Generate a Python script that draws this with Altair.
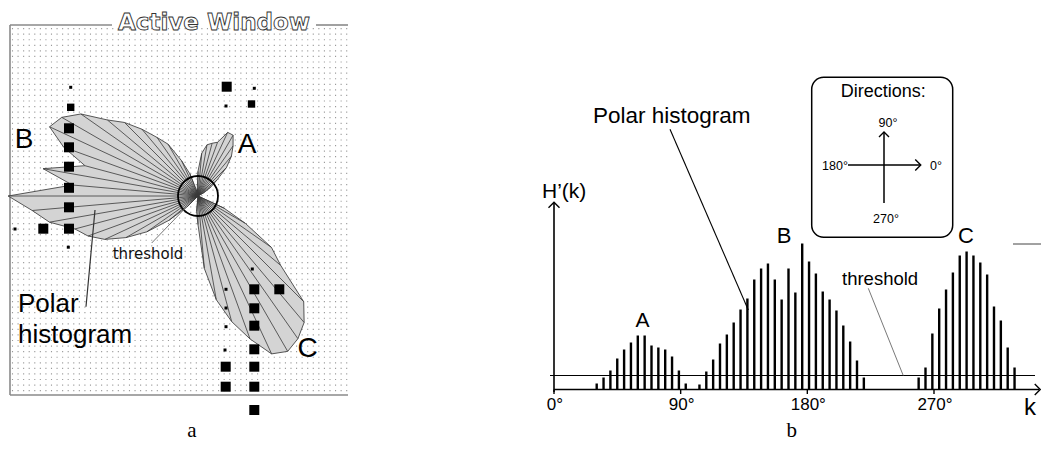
import altair as alt
import numpy as np
import pandas as pd

# ---------------- data ----------------
# sector index k (5 degree sectors) and polar-histogram density H'(k)
sectors_A = list(range(6, 20))
hist_A = [6, 12, 19, 31, 40, 47, 54, 54, 44, 42, 40, 33, 19, 6]
sectors_B = list(range(21, 46))
hist_B = [5, 18, 30, 46, 55, 67, 80, 91, 110, 121, 126, 110, 90, 121, 97,
          146, 128, 116, 98, 90, 79, 64, 48, 29, 12]
sectors_C = list(range(53, 68))
hist_C = [12, 22, 56, 81, 100, 117, 134, 138, 134, 127, 115, 83, 69, 42, 22]
THRESHOLD = 14

tick_deg = [0, 90, 180, 270]
tick_text = ["0°", "90°", "180°", "270°"]

# obstacle cells of the active window (centre in window pixels, certainty value)
obs_x = [70.7, 70.7, 69, 69, 69, 69, 69, 69, 68.3, 43.3, 15,
         226.7, 254.3, 226, 251.5,
         252.3, 254.3, 254.3, 254.3, 254.3, 254.3, 254.3, 254.3, 279.3,
         226, 226, 226, 225, 225.7, 225.7]
obs_y = [87.3, 107.3, 128.3, 147.3, 166.7, 187.8, 207.3, 228.7, 247.2, 228.7, 229,
         86.7, 88.3, 106, 104,
         269, 289.3, 308.3, 325.7, 349.3, 366.7, 386.7, 410, 289.3,
         289.3, 308, 326.7, 350, 366.7, 386.7]
obs_cv = [1, 2, 3, 3, 3, 3, 3, 3, 1, 3, 1,
          3, 1, 1, 2,
          1, 3, 3, 3, 3, 3, 3, 3, 3,
          1, 1, 1, 1, 3, 3]

# ---------------- tables ----------------
bars = pd.DataFrame({
    "k": sectors_A + sectors_B + sectors_C,
    "h": hist_A + hist_B + hist_C,
    "lobe": ["A"] * len(sectors_A) + ["B"] * len(sectors_B) + ["C"] * len(sectors_C),
})
rows = []
for lobe, ks, hs in [("A", sectors_A, hist_A), ("B", sectors_B, hist_B), ("C", sectors_C, hist_C)]:
    pts = [(ks[0] - 1, 0)] + list(zip(ks, hs)) + [(ks[-1] + 1, 0)]
    for i, (k, h) in enumerate(pts):
        rows.append({"lobe": lobe, "k": k, "h": h, "seq": i})
poly = pd.DataFrame(rows)
obstacles = pd.DataFrame({"x": obs_x, "y": obs_y, "cv": obs_cv})
ticks = pd.DataFrame({"deg": tick_deg, "label": tick_text})
thr = pd.DataFrame({"t": [THRESHOLD], "zero": [0]})
one = pd.DataFrame({"v": [0]})

W, H = 1033, 434
M = 8
SANS = "Liberation Sans"
SERIF = "Liberation Serif"

PX = alt.Scale(domain=[8, 1041], nice=False, zero=False)
PY = alt.Scale(domain=[8, 442], nice=False, zero=False, reverse=True)
KX = alt.Scale(domain=[-79.942, 70.862], nice=False, zero=False)
HY = alt.Scale(domain=[-52.5, 381.5], nice=False, zero=False)
DX = alt.Scale(domain=[-387.95, 346.03], nice=False, zero=False)

CX, CY, S = 198, 196, 1.3
polar_calc = dict(
    px=f"{CX} + {S}*datum.h*cos(datum.k*5*PI/180)",
    py=f"{CY} - {S}*datum.h*sin(datum.k*5*PI/180)",
    cx=f"{CX}", cy=f"{CY}",
)


def seg(x1, y1, x2, y2, color="black", w=1.0):
    return alt.Chart(one).mark_rule(color=color, strokeWidth=w).encode(
        x=alt.value(x1 - M), y=alt.value(y1 - M), x2=alt.value(x2 - M), y2=alt.value(y2 - M))


def txt(s, x, y, size, font=SANS, align="center", weight="normal", **kw):
    return alt.Chart(one).mark_text(text=s, fontSize=size, font=font, align=align,
                                    baseline="alphabetic", fontWeight=weight, **kw).encode(
        x=alt.value(x - M), y=alt.value(y - M))


def chevron(path, x, y, size, w=1.4):
    return alt.Chart(one).mark_point(shape=path, size=size, filled=False, color="black",
                                     strokeWidth=w, opacity=1).encode(
        x=alt.value(x - M), y=alt.value(y - M))


UP = "M-1,0.5L0,-0.5L1,0.5"
RIGHT = "M-0.5,-1L0.5,0L-0.5,1"

layers = []

# ======== panel a ========
grid_df = pd.DataFrame({"gx": np.arange(12.5, 348, 5.57)})
layers.append(alt.Chart(grid_df).mark_rule(color="#9a9a9a", strokeWidth=1.1, strokeDash=[1.2, 4.37]).encode(
    x=alt.X("gx:Q", scale=PX, axis=None), y=alt.value(28 - M), y2=alt.value(394 - M)))

# frame
layers += [
    seg(10, 25, 10, 395, "#8a8a8a", 1.6),
    seg(10, 395, 348, 395, "#8a8a8a", 1.6),
    seg(10, 25, 112, 25, "#8a8a8a", 1.6),
    seg(316, 25, 348, 25, "#8a8a8a", 1.6),
]

# polar histogram lobes
layers.append(alt.Chart(poly).transform_calculate(**polar_calc).mark_line(
    interpolate="linear-closed", fill="#d4d4d4", stroke="#555555", strokeWidth=1).encode(
    x=alt.X("px:Q", scale=PX, axis=None), y=alt.Y("py:Q", scale=PY, axis=None),
    detail="lobe:N", order="seq:Q"))
layers.append(alt.Chart(bars).transform_calculate(**polar_calc).mark_rule(color="#3a3a3a", strokeWidth=0.8).encode(
    x=alt.X("cx:Q", scale=PX, axis=None), y=alt.Y("cy:Q", scale=PY, axis=None),
    x2="px:Q", y2="py:Q"))

# obstacles
layers.append(alt.Chart(obstacles).mark_square(color="black", opacity=1).encode(
    x=alt.X("x:Q", scale=PX, axis=None), y=alt.Y("y:Q", scale=PY, axis=None),
    size=alt.Size("cv:Q", scale=alt.Scale(domain=[1, 3], range=[9, 100]), legend=None)))

# threshold circle
layers.append(alt.Chart(one).mark_point(shape="circle", size=1600, filled=False, color="black",
                                        strokeWidth=1.8, opacity=1).encode(
    x=alt.value(CX - M), y=alt.value(CY - M)))

# pointers
layers += [
    seg(151.7, 243, 186.7, 206.7, "#777777", 1),
    seg(86, 306.7, 95, 210, "#333333", 1.2),
]

# texts panel a
layers += [
    txt("Active Window", 214, 29.8, 23, font="DejaVu Sans", weight="bold",
        fill="white", stroke="#333333", strokeWidth=0.9),
    txt("B", 24, 148, 28),
    txt("A", 247, 153, 28),
    txt("C", 307.5, 357, 28),
    txt("threshold", 148, 258.5, 15, font="DejaVu Sans", color="#111111"),
    txt("Polar", 18, 312, 26, align="left"),
    txt("histogram", 18, 342.7, 26, align="left"),
    txt("a", 192, 436.5, 21, font=SERIF),
]

# ======== panel b ========
layers.append(alt.Chart(bars).transform_calculate(zero="0").mark_rule(color="black", strokeWidth=2.4).encode(
    x=alt.X("k:Q", scale=KX, axis=None), y=alt.Y("h:Q", scale=HY, axis=None), y2="zero:Q"))
layers.append(alt.Chart(thr).mark_rule(color="black", strokeWidth=1.2).encode(
    y=alt.Y("t:Q", scale=HY, axis=None), x=alt.value(550 - M), x2=alt.value(1035 - M)))

# axes
layers += [
    seg(554, 203, 554, 392, "black", 1.6),
    seg(554, 389.5, 1039, 389.5, "black", 1.6),
    chevron(UP, 554, 205, 121),
    chevron(RIGHT, 1037.5, 389.5, 121),
]
layers.append(alt.Chart(ticks).mark_rule(color="black", strokeWidth=1.4).encode(
    x=alt.X("deg:Q", scale=DX, axis=None), y=alt.value(389.5 - M), y2=alt.value(394 - M)))
layers.append(alt.Chart(ticks).mark_text(fontSize=17, font=SANS, align="center", baseline="alphabetic", dx=1).encode(
    x=alt.X("deg:Q", scale=DX, axis=None), y=alt.value(410 - M), text="label:N"))

# pointers and stray line
layers += [
    seg(670, 129.3, 748.3, 310, "black", 1.1),
    seg(868.3, 288.3, 903.3, 375.7, "#555555", 0.8),
    seg(1013, 244, 1041, 244, "#444444", 1),
]

# directions box
layers.append(alt.Chart(one).mark_rect(fill="white", fillOpacity=0, stroke="black", strokeWidth=1.5,
                                       cornerRadius=12).encode(
    x=alt.value(811.7 - M), x2=alt.value(952.7 - M), y=alt.value(77.3 - M), y2=alt.value(237.3 - M)))
layers += [
    seg(884, 133, 884, 203, "black", 1.5),
    seg(848, 165, 920, 165, "black", 1.5),
    chevron(UP, 884, 134.5, 100),
    chevron(RIGHT, 918, 165, 121),
    txt("Directions:", 883.3, 97, 18),
    txt("90°", 888, 126.7, 12.5),
    txt("180°", 835, 170, 12.5),
    txt("0°", 936, 170, 12.5),
    txt("270°", 886, 222.7, 12.5),
]

# texts panel b
layers += [
    txt("Polar histogram", 593, 122.5, 22.5, align="left"),
    txt("H’(k)", 542, 198, 21, align="left"),
    txt("A", 642.5, 326.7, 21),
    txt("B", 784, 242.7, 22),
    txt("C", 966, 242.7, 22),
    txt("threshold", 842, 285, 18.5, align="left"),
    txt("k", 1030, 415, 24),
    txt("b", 791.7, 436.5, 21, font=SERIF),
]

chart = alt.layer(*layers).resolve_scale(
    x="independent", y="independent", size="independent"
).properties(
    width=W, height=H, padding=0, autosize=alt.AutoSizeParams(type="none"), background="white"
).configure_view(strokeWidth=0)

chart.save("out.html", embed_options={"renderer": "svg", "actions": False})
